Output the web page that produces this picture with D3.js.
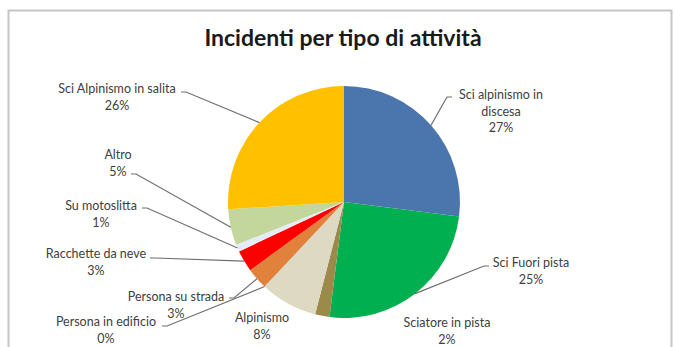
<!DOCTYPE html>
<html>
<head>
<meta charset="utf-8">
<script src="https://cdn.jsdelivr.net/npm/d3@7"></script>
<style>
  html, body { margin: 0; padding: 0; background: #fff; }
  svg { display: block; }
  text { font-family: Lato, "Open Sans", sans-serif; fill: #404040; }
</style>
</head>
<body>
<svg id="chart" width="674" height="347"></svg>
<script>
// ---- data ----
const categories = [
  "Sci alpinismo in discesa",
  "Sci Fuori pista",
  "Sciatore in pista",
  "Alpinismo",
  "Persona in edificio",
  "Persona su strada",
  "Racchette da neve",
  "Su motoslitta",
  "Altro",
  "Sci Alpinismo in salita"
];
const values = [27, 25, 2, 8, 0, 3, 3, 1, 5, 26];
const percentLabels = ["27%", "25%", "2%", "8%", "0%", "3%", "3%", "1%", "5%", "26%"];
const colors = ["#4a76ad", "#00b050", "#9c8a4a", "#ddd9c3", "#b7dee8", "#e0823c", "#ff0000", "#e4ecf5", "#c3d69b", "#ffc000"];
const title = "Incidenti per tipo di attività";

// ---- layout (label placement, not data) ----
const labelLayout = {
  "Sci alpinismo in discesa": { lines: ["Sci alpinismo in", "discesa"], cx: 501, y: 99, anchor: [452, 97] },
  "Sci Fuori pista":          { lines: ["Sci Fuori pista"], cx: 531, y: 267, anchor: [489, 266] },
  "Sciatore in pista":        { lines: ["Sciatore in pista"], cx: 447, y: 327, anchor: null },
  "Alpinismo":                { lines: ["Alpinismo"], cx: 262, y: 322, anchor: null },
  "Persona in edificio":      { lines: ["Persona in edificio"], cx: 106, y: 326, anchor: [162, 326] },
  "Persona su strada":        { lines: ["Persona su strada"], cx: 176, y: 301, anchor: [229, 298] },
  "Racchette da neve":        { lines: ["Racchette da neve"], cx: 96, y: 258, anchor: [150, 258] },
  "Su motoslitta":            { lines: ["Su motoslitta"], cx: 101, y: 210, anchor: [142, 208] },
  "Altro":                    { lines: ["Altro"], cx: 118, y: 159, anchor: [131, 174] },
  "Sci Alpinismo in salita":  { lines: ["Sci Alpinismo in salita"], cx: 117, y: 93, anchor: [181, 92] }
};

const W = 674, H = 347;
const cx = 344, cy = 202, R = 116;
const lineH = 16.5;

const svg = d3.select("#chart");

// frame
svg.append("rect")
  .attr("x", 8.5).attr("y", 10.5)
  .attr("width", 663).attr("height", 350)
  .attr("fill", "#fff")
  .attr("stroke", "#c6c6c6").attr("stroke-width", 2);

// title
svg.append("text")
  .attr("x", 343).attr("y", 46)
  .attr("text-anchor", "middle")
  .style("font-size", "23px").style("font-weight", "bold")
  .style("fill", "#1a1a1a")
  .text(title);

const data = categories.map((c, i) => ({ name: c, value: values[i], pct: percentLabels[i], color: colors[i] }));

const pie = d3.pie().value(d => d.value).sort(null).startAngle(0).endAngle(2 * Math.PI);
const arcs = pie(data);
const arc = d3.arc().innerRadius(0).outerRadius(R);
const edge = d3.arc().innerRadius(R).outerRadius(R);

const g = svg.append("g").attr("transform", `translate(${cx},${cy})`);
g.selectAll("path.slice")
  .data(arcs)
  .join("path")
  .attr("class", "slice")
  .attr("d", arc)
  .attr("fill", d => d.data.color)
  .attr("stroke", "none");

// leader lines
const lines = svg.append("g");
arcs.forEach(a => {
  const L = labelLayout[a.data.name];
  if (!L || !L.anchor) return;
  const [px, py] = edge.centroid(a);
  const ex = cx + px, ey = cy + py;
  const [ax, ay] = L.anchor;
  const dir = ex > ax ? 1 : -1;
  const pts = [[ax, ay], [ax + dir * 5, ay], [ex, ey]];
  lines.append("path")
    .attr("d", d3.line()(pts))
    .attr("fill", "none")
    .attr("stroke", "#6e6e6e")
    .attr("stroke-width", 1.2);
});

// labels
const labels = svg.append("g");
arcs.forEach(a => {
  const L = labelLayout[a.data.name];
  const t = labels.append("text")
    .attr("text-anchor", "middle")
    .style("font-size", "12.5px");
  const all = L.lines.concat([a.data.pct]);
  all.forEach((s, i) => {
    t.append("tspan").attr("x", L.cx).attr("y", L.y + i * lineH).text(s);
  });
});
</script>
</body>
</html>
